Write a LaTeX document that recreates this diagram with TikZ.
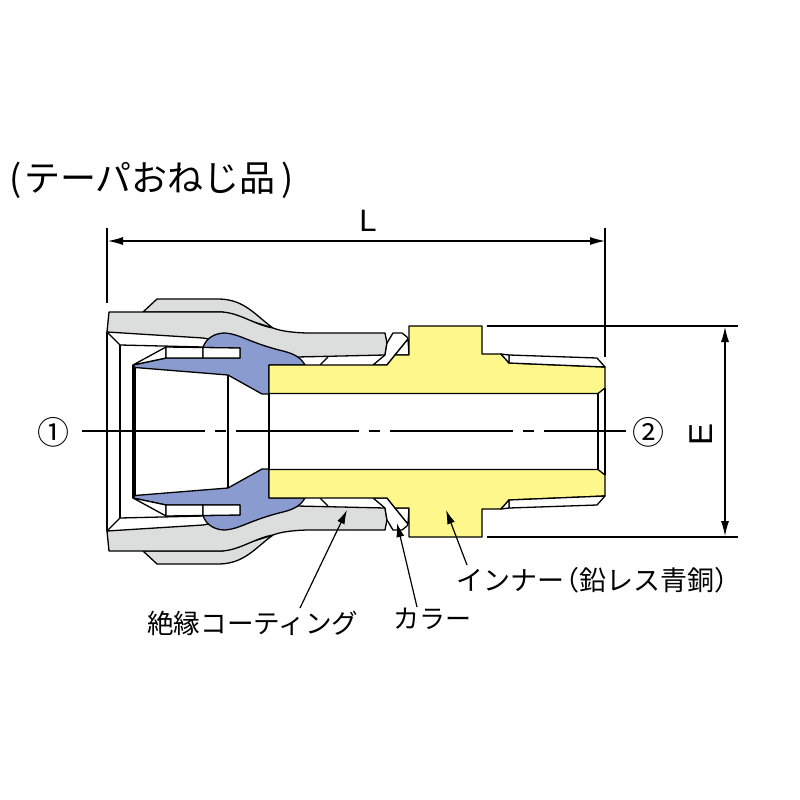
\documentclass[tikz,border=0pt]{standalone}
\usepackage{fontspec}
\setmainfont{Liberation Sans}
\newfontfamily\jpfont{Noto Sans CJK JP}
\usetikzlibrary{arrows.meta}
\definecolor{nutgray}{RGB}{220,221,221}
\definecolor{ringblue}{RGB}{138,155,208}
\definecolor{innerbrass}{RGB}{253,247,140}
\tikzset{
    outline/.style={line width=1.3pt, line join=round, draw=black},
    dimline/.style={line width=1.1pt, {Latex[length=15pt,width=8pt]}-{Latex[length=15pt,width=8pt]}},
    extline/.style={line width=1.1pt},
    leader/.style={line width=1.2pt, -{Latex[length=14pt,width=8pt]}},
    partlabel/.style={font=\jpfont\fontsize{26}{26}\selectfont, inner sep=0pt}
}
% one half of the fitting, mirrored about the axis afterwards
\newcommand{\halfbody}{
\fill[white] (107,332) rectangle (385,400);
\draw[outline, fill=nutgray] (143,312) -- (157,299) -- (220,299) .. controls (245,300) and (255,315) .. (273,328) -- (222,312) -- cycle; % back of nut
\draw[outline, fill=nutgray] (107,332) -- (109,312) -- (143,312) -- (222,312) .. controls (240,313) and (255,325) .. (273,328) .. controls (280,331) and (295,333) .. (310,333) -- (385,333) -- (387,343) -- (385,355) -- (297,357) -- (203,338) -- cycle; % nut
\draw[outline] (107,332) -- (120,345) -- (203,347); % nut inner corner
\draw[outline] (328,357) -- (320,365); % coating step
\draw[outline, fill=white] (373,365) -- (385,355) -- (387,343) -- (393,333) -- (402,333) -- (407,337) -- (408,339) -- (387,365) -- cycle; % collar
\draw[outline, fill=white] (408,339) -- (409,355) -- (395,355) -- cycle;
\draw[outline, fill=ringblue] (133,365) -- (166,358) -- (240,358) -- (240,348) -- (203,347.5) .. controls (206,338) and (215,333) .. (225,333) .. controls (240,334) and (250,343) .. (283,351) .. controls (295,354) and (301,358) .. (305,365) -- (269,365) -- (269,394) -- (262,394) -- (228,375) -- (135,367.5) -- cycle; % seal ring
\draw[outline, fill=white] (133,365) -- (166,347) -- (166,358) -- cycle;
\draw[outline, fill=white] (166,347) -- (203,347.5) -- (203,358) -- (166,358) -- cycle;
\draw[outline, fill=white] (203,347.5) -- (240,348) -- (240,358) -- (203,358) -- cycle;
\draw[outline, fill=innerbrass] (269,365) -- (387,365) -- (395,355) -- (409,355) -- (409,326) -- (482,326) -- (482,354) -- (501,354) -- (509,363) -- (605,367) -- (605,388) -- (598,393.5) -- (269,393.5) -- cycle; % inner
\draw[outline, fill=white] (509,355) -- (597,358) -- (605,367) -- (509,363) -- cycle; % thread
\draw[outline, fill=white] (501,354) -- (509,355) -- (509,363) -- cycle;
}
\begin{document}
\begin{tikzpicture}[x=1pt, y=-1pt]
\useasboundingbox (0,0) rectangle (800,800);
\fill[white] (0,0) rectangle (800,800);
\halfbody
\begin{scope}[shift={(0,863)}, yscale=-1]
\halfbody
\end{scope}
\draw[outline] (107,332) -- (107,531);
\draw[outline] (120,345) -- (120,518);
\draw[outline] (133,365) -- (133,498);
\draw[outline] (135,367.5) -- (135,495.5);
\draw[outline] (228,375) -- (228,488);
\draw[outline] (269,393.5) -- (269,469.5);
\draw[outline] (598,393.5) -- (598,469.5);
\draw[outline] (605,388) -- (605,475);
% dimensions
\coordinate (Lleft) at (108,241);
\coordinate (Lright) at (605,241);
\coordinate (Etop) at (725,327);
\coordinate (Ebottom) at (725,536);
\draw[extline] (107,228) -- (107,303);
\draw[extline] (605,228) -- (605,357);
\draw[extline] (487,326) -- (738,326);
\draw[extline] (487,537) -- (738,537);
\draw[dimline] (Lleft) -- (Lright);
\draw[dimline] (Etop) -- (Ebottom);
\node[font=\fontsize{31}{31}\selectfont, inner sep=0pt] (Llabel) at (368,221) {L};
\node[font=\fontsize{33}{33}\selectfont, inner sep=0pt, rotate=90] (Elabel) at (701,434) {E};
% axis
\node[partlabel, font=\jpfont\fontsize{32}{32}\selectfont] (portone) at (53,432) {①};
\node[partlabel, font=\jpfont\fontsize{32}{32}\selectfont] (porttwo) at (648,432) {②};
\draw[line width=1.1pt, dash pattern=on 123pt off 10pt on 11pt off 10pt] (82,431) -- (626,431);
% labels
\node[font=\jpfont\fontsize{36}{36}\selectfont, inner sep=0pt, anchor=west] (title) at (9,180) {\makebox[15pt][l]{(}テーパおねじ品\hspace{6pt})};
\node[partlabel, anchor=west, font=\jpfont\fontsize{27}{27}\selectfont] (innerlabel) at (456,580) {インナー\hspace{-12pt}（鉛レス青銅）};
\node[partlabel, anchor=west, font=\jpfont\fontsize{26.6}{27}\selectfont] (coatlabel) at (147,623) {絶縁コーティング};
\node[partlabel, anchor=west] (collarlabel) at (393,619) {カラー};
\coordinate (coattip) at (347,510);
\coordinate (collartip) at (397,523);
\coordinate (innertip) at (446,510);
\draw[leader] (300,608) -- (coattip);
\draw[leader] (417,607) -- (collartip);
\draw[leader] (467,565) -- (innertip);
\end{tikzpicture}
\end{document}
